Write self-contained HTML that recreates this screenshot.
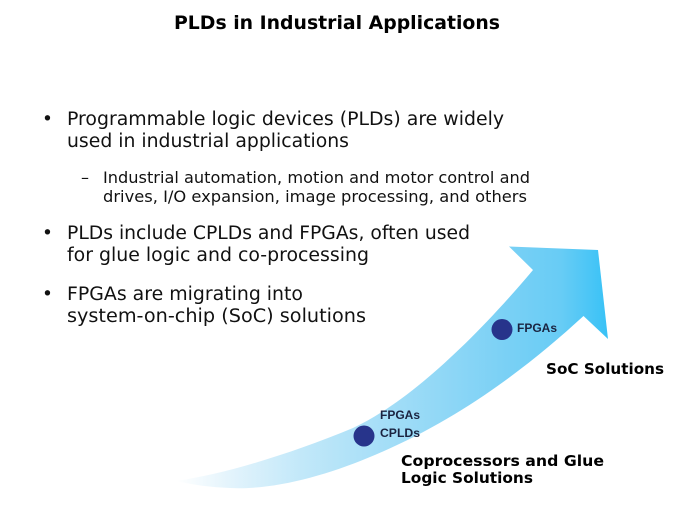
<!DOCTYPE html>
<html>
<head>
<meta charset="utf-8">
<style>
html,body{margin:0;padding:0;background:#fff;width:674px;height:506px;overflow:hidden}
svg{display:block}
text{font-family:"DejaVu Sans","Liberation Sans",sans-serif;fill:#111}
.b{font-size:18.5px}
.s{font-size:16px}
.h{font-weight:bold;font-size:15.5px}
.l{font-family:"Liberation Sans",sans-serif;font-weight:bold;font-size:12px;fill:#1a2340}
</style>
</head>
<body>
<svg width="674" height="506" viewBox="0 0 674 506" xmlns="http://www.w3.org/2000/svg">
<defs>
<linearGradient id="g" gradientUnits="userSpaceOnUse" x1="176" y1="0" x2="608" y2="0">
<stop offset="0" stop-color="#ffffff"/>
<stop offset="0.12" stop-color="#e4f4fc"/>
<stop offset="0.29" stop-color="#c2e8f9"/>
<stop offset="0.52" stop-color="#9fdcf7"/>
<stop offset="0.75" stop-color="#7cd1f5"/>
<stop offset="0.89" stop-color="#68ccf5"/>
<stop offset="1" stop-color="#38c2f6"/>
</linearGradient>
</defs>
<text x="174" y="29" font-weight="bold" font-size="19" textLength="326" lengthAdjust="spacingAndGlyphs" style="fill:#000">PLDs in Industrial Applications</text>

<text x="42" y="125" class="b">•</text>
<text x="67" y="125" class="b" textLength="437" lengthAdjust="spacingAndGlyphs">Programmable logic devices (PLDs) are widely</text>
<text x="67" y="147" class="b" textLength="282" lengthAdjust="spacingAndGlyphs">used in industrial applications</text>

<text x="81" y="183" class="s">–</text>
<text x="103" y="183" class="s" textLength="427" lengthAdjust="spacingAndGlyphs">Industrial automation, motion and motor control and</text>
<text x="103" y="202" class="s" textLength="424" lengthAdjust="spacingAndGlyphs">drives, I/O expansion, image processing, and others</text>

<text x="42" y="239" class="b">•</text>
<text x="67" y="239" class="b" textLength="403" lengthAdjust="spacingAndGlyphs">PLDs include CPLDs and FPGAs, often used</text>
<text x="67" y="261" class="b" textLength="302" lengthAdjust="spacingAndGlyphs">for glue logic and co-processing</text>

<text x="42" y="300" class="b">•</text>
<text x="67" y="300" class="b" textLength="236" lengthAdjust="spacingAndGlyphs">FPGAs are migrating into</text>
<text x="67" y="322" class="b" textLength="299" lengthAdjust="spacingAndGlyphs">system-on-chip (SoC) solutions</text>

<path d="M176 481 C225 474 290 454 353 428 C405 404 470 345 533 270 L509 246.5 L598 250 L608 339 L583.5 316 C530 365 460 420 370 457 C320 478 270 490 230 488 C205 487 190 484 176 481 Z" fill="url(#g)"/>

<circle cx="364" cy="436" r="10.5" fill="#27348b"/>
<circle cx="502" cy="329.5" r="10.5" fill="#27348b"/>

<text x="380" y="419" class="l" textLength="40" lengthAdjust="spacingAndGlyphs">FPGAs</text>
<text x="380" y="437" class="l" textLength="40" lengthAdjust="spacingAndGlyphs">CPLDs</text>
<text x="517" y="332" class="l" textLength="40" lengthAdjust="spacingAndGlyphs">FPGAs</text>

<text x="546" y="374" class="h" textLength="118" lengthAdjust="spacingAndGlyphs" style="fill:#000">SoC Solutions</text>
<text x="401" y="466" class="h" textLength="203" lengthAdjust="spacingAndGlyphs" style="fill:#000">Coprocessors and Glue</text>
<text x="401" y="483" class="h" textLength="132" lengthAdjust="spacingAndGlyphs" style="fill:#000">Logic Solutions</text>
</svg>
</body>
</html>
